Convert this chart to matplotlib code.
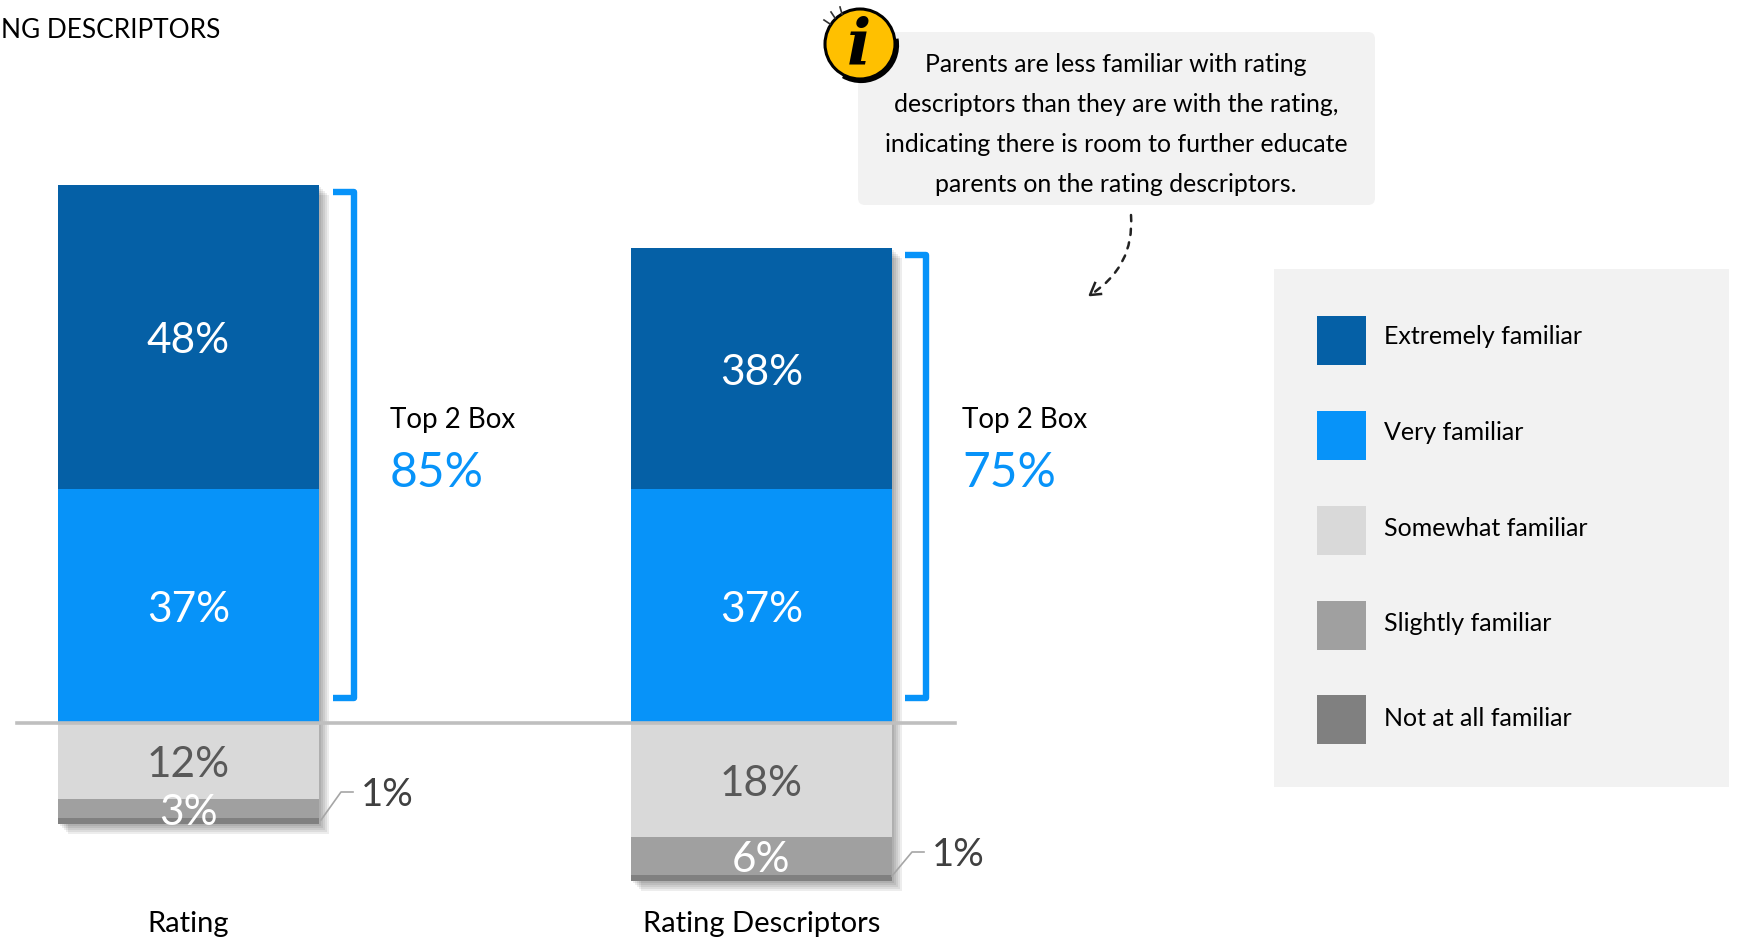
import matplotlib
matplotlib.use("Agg")
from matplotlib import pyplot as plt
from matplotlib import patheffects as pe
from matplotlib.patches import Arc, Circle, FancyArrowPatch, FancyBboxPatch, Rectangle
import numpy as np

plt.rcParams['font.family'] = ['Lato', 'DejaVu Sans']

categories = ["Rating", "Rating Descriptors"]
extremely = [48, 38]
very = [37, 37]
somewhat = [12, 18]
slightly = [3, 6]
not_at_all = [1, 1]
top2 = ["85%", "75%"]
legend_labels = ["Extremely familiar", "Very familiar", "Somewhat familiar",
                 "Slightly familiar", "Not at all familiar"]
colors = ["#0560A6", "#0793F9", "#D9D9D9", "#A0A0A0", "#808080"]
note = ["Parents are less familiar with rating",
        "descriptors than they are with the rating,",
        "indicating there is room to further educate",
        "parents on the rating descriptors."]

W, H = 1739, 941
fig = plt.figure(figsize=(W / 100, H / 100), dpi=100, facecolor="white")

# chart axes: x = category index, y = percent, 0 at the divider line
ax = fig.add_axes([0, 0, 1, 1])
ppu_x, ppu_y = 573, 6.33
ax.set_xlim(-188.5 / ppu_x, (W - 188.5) / ppu_x)
ax.set_ylim(-(H - 723) / ppu_y, 723 / ppu_y)
ax.axis("off")

# pixel overlay for callout, legend etc
ov = fig.add_axes([0, 0, 1, 1], facecolor="none")
ov.set_xlim(0, W)
ov.set_ylim(H, 0)
ov.axis("off")

x = np.arange(len(categories))
w = 261 / ppu_x
ext, ver, som, sli, nat = [np.array(a, float) for a in (extremely, very, somewhat, slightly, not_at_all)]

# soft shadow behind each stack
shadow = [pe.SimplePatchShadow(offset=(o * 0.72, -o * 0.72), shadow_rgbFace="black", alpha=0.07)
          for o in (10, 8, 6, 4, 2)]
ax.bar(x, ext + ver + som + sli + nat, w, bottom=-(som + sli + nat), color="white",
       path_effects=shadow + [pe.Normal()], zorder=1)

ax.bar(x, ext, w, bottom=ver, color=colors[0], zorder=2)
ax.bar(x, ver, w, color=colors[1], zorder=2)
ax.bar(x, -som, w, color=colors[2], zorder=2)
ax.bar(x, -sli, w, bottom=-som, color=colors[3], zorder=2)
ax.bar(x, -nat, w, bottom=-(som + sli), color=colors[4], zorder=2)
ax.axhline(0, xmin=17 / W, xmax=955 / W, color="#BFBFBF", lw=2.6, zorder=3)


def seg_label(i, y, s, c):
    ax.annotate(s, (i, y), xytext=(0, -3.2), textcoords="offset points", color=c,
                fontsize=30.5, ha="center", va="center", zorder=4)


for i in x:
    seg_label(i, ver[i] + ext[i] / 2, f"{extremely[i]}%", "white")
    seg_label(i, ver[i] / 2, f"{very[i]}%", "white")
    seg_label(i, -som[i] / 2, f"{somewhat[i]}%", "#595959")
    seg_label(i, -som[i] - sli[i] / 2, f"{slightly[i]}%", "white")
    ov.text(188.5 + i * ppu_x, 924, categories[i], color="black", fontsize=21, ha="center", va="center")

# brackets + top 2 box
blue = "#0793F9"
for i, xb in enumerate([333, 905]):
    yt = 723 - (ext[i] + ver[i]) * ppu_y + 7
    ov.plot([xb, xb + 21, xb + 21, xb], [yt, yt, 698, 698], color=blue, lw=4.6,
            solid_joinstyle="round", solid_capstyle="butt")
    ov.text(xb + 57, 420, "Top 2 Box", color="black", fontsize=20, ha="left", va="center")
    ov.text(xb + 57, 473, top2[i], color=blue, fontsize=34.5, ha="left", va="center")

# small 1% leaders
for xs, ys, dy, v in [(321, 820, 28, not_at_all[0]), (892, 876, 24, not_at_all[1])]:
    ov.plot([xs, xs + 20, xs + 32], [ys, ys - dy, ys - dy], color="#A6A6A6", lw=1.2)
    ov.text(xs + 40, ys - dy + 3, f"{v}%", color="#404040", fontsize=27.5, ha="left", va="center")

ov.text(1, 30, "NG DESCRIPTORS", color="black", fontsize=18.9, ha="left", va="center")

# callout
ov.add_patch(FancyBboxPatch((864, 38), 505, 161, boxstyle="round,pad=6,rounding_size=7",
                            fc="#F2F2F2", ec="none", zorder=1))
for yy, line in zip([64, 104, 144, 184], note):
    ov.text(1116, yy, line, color="black", fontsize=17.9, ha="center", va="center", zorder=3)

# info icon
ov.add_patch(Circle((860, 44), 35, fc="#FFC000", ec="black", lw=2.2, zorder=4))
ov.add_patch(Arc((861, 45), 72, 72, theta1=-10, theta2=120, ec="black", lw=3, zorder=4))
ov.text(859, 46, "i", color="black", fontsize=46, family="DejaVu Serif", weight="bold",
        style="italic", ha="center", va="center", zorder=5)
for x0, y0, x1, y1 in [(824, 20, 830, 24), (831, 12, 835, 18), (840, 7, 842, 14)]:
    ov.plot([x0, x1], [y0, y1], color="#333333", lw=1.2, zorder=4)

# dashed arrow
ov.add_patch(FancyArrowPatch((1131, 215), (1090, 295), connectionstyle="arc3,rad=-0.3",
                             arrowstyle="-", ls=(0, (2.5, 3)), lw=1.8, color="#222222", shrinkA=0, shrinkB=0))
ov.plot([1101, 1090, 1095], [294, 295, 283], color="#222222", lw=1.8)

# legend panel
ov.add_patch(Rectangle((1274, 269), 455, 518, fc="#F2F2F2", ec="none", zorder=1))
for k, (yy, lab, c) in enumerate(zip([340, 435, 530, 625, 719], legend_labels, colors)):
    ov.add_patch(Rectangle((1317, yy - 24.5), 49, 49, fc=c, ec="none", zorder=2))
    ov.text(1384, 344.5 + k * 95.5, lab, color="black", fontsize=18, ha="left", va="baseline", zorder=3)

fig.savefig("out.png", dpi=100)
